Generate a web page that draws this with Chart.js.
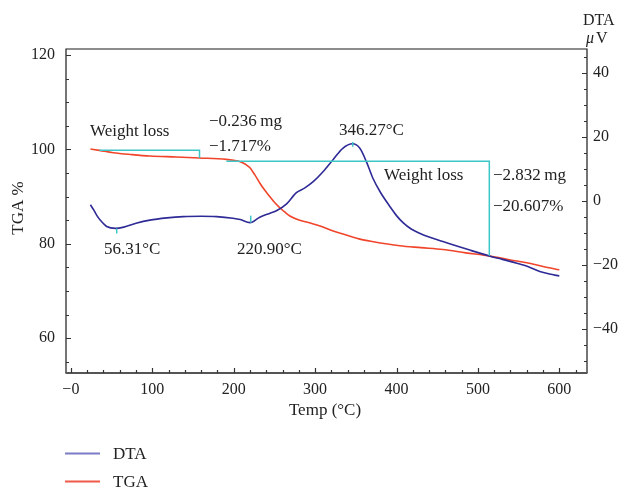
<!DOCTYPE html>
<html>
<head>
<meta charset="utf-8">
<script src="https://cdn.jsdelivr.net/npm/chart.js@4.4.1/dist/chart.umd.min.js"></script>
<style>
html,body{margin:0;padding:0;background:#fff;}
#c{display:block;}
</style>
</head>
<body>
<canvas id="c" width="622" height="492"></canvas>
<script>
// ---- data ----
const dtaTemp = [24,28,32,36,44,55,65,80,97,118,138,160,179,199,208,220,232,244,253,265,277,287,298,310,322,334,346,355,363,371,380,392,400,408,418,429,440,457,475,490,515,530,548,562,576,588,600];
const dtaVal  = [-1.2,-2.8,-4.6,-6.0,-8.0,-8.6,-8.2,-7.0,-6.0,-5.3,-4.9,-4.8,-4.9,-5.4,-5.8,-6.8,-5.1,-3.9,-3.0,-0.9,2.6,4.0,6.1,9.2,12.9,16.5,17.9,16.5,12.3,7.1,2.8,-1.8,-4.6,-6.8,-8.8,-10.2,-11.3,-12.7,-14.2,-15.4,-17.3,-18.3,-19.5,-20.6,-22.1,-22.9,-23.5];
const tgaTemp = [24,35,52,75,97,130,158,191,200,208,215,220,226,232,238,244,250,257,263,269,281,294,306,318,330,343,355,370,404,430,457,485,515,540,560,580,600];
const tgaVal  = [100.1,99.8,99.3,98.9,98.6,98.4,98.2,97.9,97.7,97.4,96.8,96.1,94.6,92.9,91.4,90.1,88.8,87.6,86.7,85.9,85.0,84.4,83.8,83.0,82.3,81.6,81.0,80.5,79.6,79.2,78.8,78.1,77.4,76.6,76.0,75.2,74.5];
// weight-loss step lines (temp, TGA %)
const loss1Temp = [35,158,158];
const loss1Val  = [99.8,99.8,98.2];
const loss2Temp = [191,514,514];
const loss2Val  = [97.5,97.5,77.5];
// DTA peak markers (temp, DTA from, DTA to)
const peakTemp = [56.31,220.90,346.27];
const peakFrom = [-8.6,-6.8,18.5];
const peakTo   = [-10.2,-4.6,17.0];
const xTicks  = [0,100,200,300,400,500,600];
const yTicks  = [60,80,100,120];
const y1Ticks = [-40,-20,0,20,40];

const pts = (xs, ys) => xs.map((v,i)=>({x:v,y:ys[i]}));
const minus = s => String(s).replace('-', '\u2212');
const FONT = '"Liberation Serif", "DejaVu Serif", serif';
const BLUE = '#2e2a96', RED = '#f0452a', CYAN = '#3cc6c6';

const markerSets = peakTemp.map((t,i)=>({
  data: pts([t,t],[peakFrom[i],peakTo[i]]), yAxisID:'y1',
  borderColor: CYAN, borderWidth: 1.5, pointRadius: 0, order: 0
}));

const overlay = {
  id: 'overlay',
  afterDraw(chart){
    const {ctx, chartArea:a, scales} = chart;
    const {x, y, y1} = scales;
    ctx.save();
    // frame
    ctx.strokeStyle = '#1a1a1a'; ctx.lineWidth = 1.2;
    ctx.beginPath();
    ctx.moveTo(a.left, a.bottom); ctx.lineTo(a.left, a.top);
    ctx.lineTo(a.right, a.top); ctx.lineTo(a.right, a.bottom);
    ctx.stroke();
    ctx.strokeStyle = '#555'; ctx.lineWidth = 2;
    ctx.beginPath(); ctx.moveTo(a.left-0.5, a.bottom); ctx.lineTo(a.right+0.5, a.bottom); ctx.stroke();
    // inward ticks
    ctx.strokeStyle = '#333'; ctx.lineWidth = 1.2;
    ctx.beginPath();
    for (let v = Math.ceil(x.min/20)*20; v <= x.max; v += 20) {
      const px = Math.round(x.getPixelForValue(v)) + 0.5;
      const len = v % 100 === 0 ? 5 : 3;
      ctx.moveTo(px, a.bottom); ctx.lineTo(px, a.bottom - len);
    }
    for (let v = Math.ceil(y.min/5)*5; v <= y.max; v += 5) {
      const py = Math.round(y.getPixelForValue(v)) + 0.5;
      const len = v % 20 === 0 ? 5 : 3;
      ctx.moveTo(a.left, py); ctx.lineTo(a.left + len, py);
    }
    for (let v = Math.ceil(y1.min/5)*5; v <= y1.max; v += 5) {
      const py = Math.round(y1.getPixelForValue(v)) + 0.5;
      const len = v % 20 === 0 ? 5 : 3;
      ctx.moveTo(a.right, py); ctx.lineTo(a.right - len, py);
    }
    ctx.stroke();

    // annotations
    ctx.fillStyle = '#222';
    ctx.textBaseline = 'alphabetic';
    ctx.textAlign = 'left';
    ctx.font = '17px ' + FONT;
    ctx.fillText('Weight loss', 90, 136);
    ctx.fillText('\u22120.236\u2009mg', 209, 126);
    ctx.fillText('\u22121.717%', 209, 151);
    ctx.fillText('346.27\u00b0C', 339, 135);
    ctx.fillText('Weight loss', 384, 180);
    ctx.fillText('\u22122.832\u2009mg', 493, 180);
    ctx.fillText('\u221220.607%', 493, 211);
    ctx.fillText('56.31\u00b0C', 104, 254);
    ctx.fillText('220.90\u00b0C', 237, 254);

    // axis titles
    ctx.font = '17px ' + FONT;
    ctx.textAlign = 'center'; ctx.textBaseline = 'middle';
    ctx.fillText('Temp (\u00b0C)', 325, 411);
    ctx.save();
    ctx.translate(19, 208); ctx.rotate(-Math.PI/2);
    ctx.fillText('TGA %', 0, 0);
    ctx.restore();
    ctx.textAlign = 'left'; ctx.textBaseline = 'alphabetic';
    ctx.font = '16px ' + FONT;
    ctx.fillText('DTA', 583, 25);
    ctx.font = 'italic 16px ' + FONT;
    ctx.fillText('\u03bc', 586, 43);
    ctx.font = '16px ' + FONT;
    ctx.fillText('V', 596, 43);

    // legend
    ctx.lineWidth = 2;
    ctx.strokeStyle = '#7b7bc6';
    ctx.beginPath(); ctx.moveTo(65, 453.5); ctx.lineTo(100, 453.5); ctx.stroke();
    ctx.strokeStyle = '#f05a48';
    ctx.beginPath(); ctx.moveTo(65, 481.5); ctx.lineTo(100, 481.5); ctx.stroke();
    ctx.font = '17px ' + FONT;
    ctx.fillStyle = '#222';
    ctx.fillText('DTA', 113, 459);
    ctx.fillText('TGA', 113, 487);
    ctx.restore();
  }
};

new Chart(document.getElementById('c'), {
  type: 'line',
  data: {
    datasets: [
      { label:'DTA', data: pts(dtaTemp, dtaVal), yAxisID:'y1', borderColor: BLUE, borderWidth: 1.6,
        pointRadius: 0, cubicInterpolationMode:'monotone', order: 2 },
      { label:'TGA', data: pts(tgaTemp, tgaVal), yAxisID:'y', borderColor: RED, borderWidth: 1.6,
        pointRadius: 0, cubicInterpolationMode:'monotone', order: 3 },
      { label:'loss1', data: pts(loss1Temp, loss1Val), yAxisID:'y', borderColor: CYAN, borderWidth: 1.5,
        pointRadius: 0, tension: 0, order: 1 },
      { label:'loss2', data: pts(loss2Temp, loss2Val), yAxisID:'y', borderColor: CYAN, borderWidth: 1.5,
        pointRadius: 0, tension: 0, order: 1 },
      ...markerSets
    ]
  },
  options: {
    responsive: false,
    animation: false,
    parsing: true,
    layout: { padding: { top: 49, left: 0, right: 0, bottom: 0 } },
    plugins: { legend: { display: false }, tooltip: { enabled: false } },
    scales: {
      x: {
        type: 'linear', position: 'bottom', min: -6, max: 634,
        grid: { display: false, drawTicks: false }, border: { display: false },
        afterBuildTicks: s => { s.ticks = xTicks.map(v => ({value: v})); },
        afterFit: s => { s.height = 119; },
        ticks: { padding: 7, color: '#222', font: { family: FONT, size: 16 },
          callback: v => v === 0 ? '\u22120' : minus(v) }
      },
      y: {
        type: 'linear', position: 'left', min: 52.65, max: 121.27,
        grid: { display: false, drawTicks: false }, border: { display: false },
        afterBuildTicks: s => { s.ticks = yTicks.map(v => ({value: v})); },
        afterFit: s => { s.width = 66; },
        ticks: { padding: 11, color: '#222', font: { family: FONT, size: 16 }, callback: v => minus(v) }
      },
      y1: {
        type: 'linear', position: 'right', min: -53.9, max: 47.6,
        grid: { display: false, drawTicks: false }, border: { display: false },
        afterBuildTicks: s => { s.ticks = y1Ticks.map(v => ({value: v})); },
        afterFit: s => { s.width = 35; },
        ticks: { padding: 6, color: '#222', font: { family: FONT, size: 16 }, callback: v => minus(v) }
      }
    }
  },
  plugins: [overlay]
});
</script>
</body>
</html>
